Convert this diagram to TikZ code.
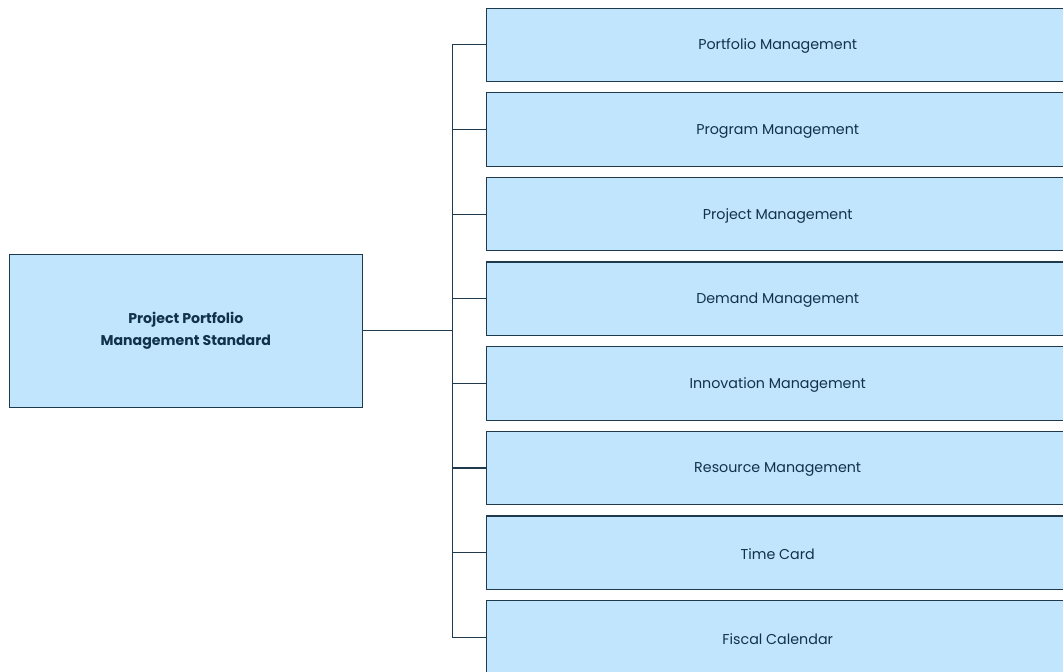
\documentclass[tikz,border=0pt]{standalone}
\usepackage{fontspec}
\setmainfont{Poppins}
\definecolor{boxfill}{HTML}{C0E5FD}
\definecolor{boxline}{HTML}{1E3A4C}
\definecolor{txt}{HTML}{12324A}
\begin{document}
\begin{tikzpicture}[x=0.75pt,y=-0.75pt,
  box/.style={draw=boxline,fill=boxfill,line width=0.9pt,inner sep=0pt,text=txt},
  lbl/.style={text=txt,font=\fontsize{10.7}{12}\selectfont},
  conn/.style={draw=boxline,line width=0.9pt}]
\useasboundingbox (0,0) rectangle (1063,671);
\begin{scope}
\clip (0,0) rectangle (1063,671);
\node[box,minimum width=353*0.75pt,minimum height=153*0.75pt,align=center,font=\fontsize{10.6}{16.5}\selectfont\bfseries] (root) at (185.8,330.8) {Project Portfolio\\Management Standard};
\foreach \i/\t in {0/Portfolio Management,1/Program Management,2/Project Management,3/Demand Management,4/Innovation Management,5/Resource Management,6/Time Card,7/Fiscal Calendar}{
  \node[box,minimum width=580*0.75pt,minimum height=73.5*0.75pt,anchor=north west] (b\i) at (485.7,{7.5+84.64*\i}) {};
  \node[lbl] (t\i) at ([xshift=0.75pt*292,yshift=-0.75pt*1.5]b\i.west) {\t};
}
\coordinate (trunk) at (452.3,0);
\draw[conn] (root.east) -- (root.east -| trunk);
\draw[conn] (b0.west -| trunk) -- (b7.west -| trunk);
\foreach \i in {0,...,7}{
  \draw[conn] (b\i.west -| trunk) -- (b\i.west);
}
\end{scope}
\end{tikzpicture}
\end{document}
